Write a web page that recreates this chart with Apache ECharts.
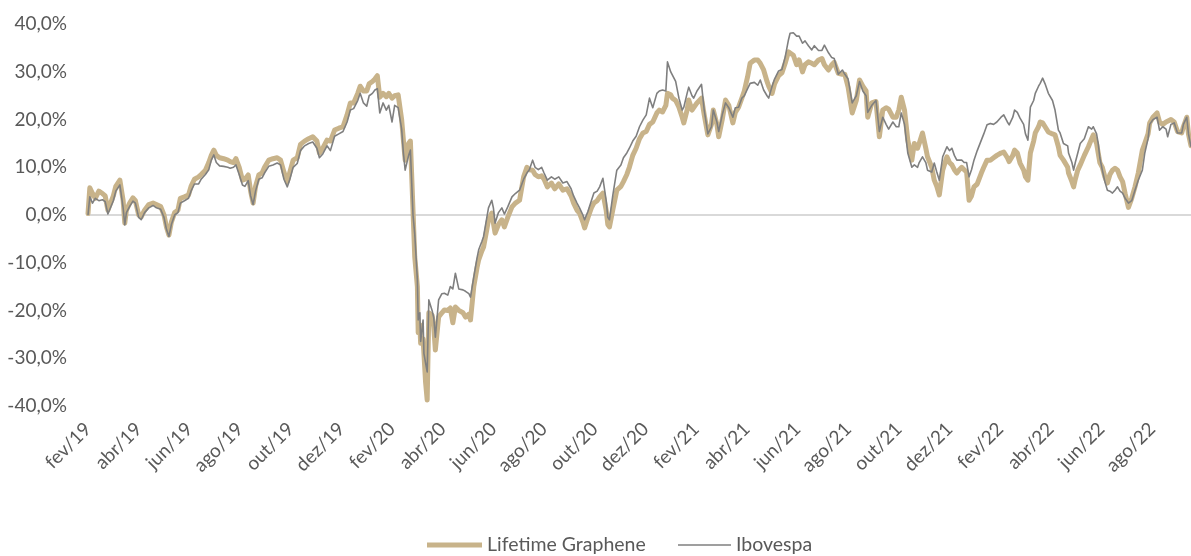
<!DOCTYPE html>
<html><head><meta charset="utf-8">
<script src="https://cdn.jsdelivr.net/npm/echarts@6/dist/echarts.min.js"></script>
<style>html,body{margin:0;padding:0;background:#fff}#c{width:1191px;height:556px}</style>
</head><body><div id="c"></div>
<script>
// Day offsets from 2019-02-01
const startYear = 2019, startMonth = 1; // fev/19 (0-based month index)
const monthNames = ['jan','fev','mar','abr','mai','jun','jul','ago','set','out','nov','dez'];
const seriesNames = ['Lifetime Graphene', 'Ibovespa'];

const days = [
0,2,5,8,12,16,19,22,24,28,
31,36,40,42,44,48,52,55,59,62,
66,71,76,80,85,89,92,95,98,102,
106,109,114,119,122,126,131,134,139,143,
146,149,152,156,161,166,169,173,176,180,
184,187,191,194,197,200,204,208,211,216,
221,226,230,234,238,241,245,250,254,259,
264,269,274,277,281,286,290,295,300,305,
310,314,318,323,326,330,334,337,341,344,
347,350,354,358,361,365,368,372,376,378,
380,384,386,389,391,394,395,397,398,401,
402,404,406,408,412,414,416,420,424,427,
431,434,437,440,444,449,452,456,458,462,
466,468,472,474,478,480,484,486,488,492,
496,499,503,508,512,517,522,526,529,533,
536,540,544,547,551,556,560,565,570,575,
580,583,587,590,594,596,600,604,607,611,
614,618,622,624,626,630,635,640,643,647,
650,654,658,662,666,670,674,678,683,686,
690,694,696,700,702,706,710,714,716,720,
722,726,728,732,737,740,744,748,750,754,
756,760,764,768,773,776,780,784,787,791,
794,799,803,806,810,814,816,820,823,828,
832,836,840,842,846,850,853,857,860,864,
868,871,876,880,883,888,892,895,900,905,
908,912,917,922,926,930,934,936,941,946,
950,954,958,961,966,970,973,976,980,984,
989,992,996,998,1002,1006,1008,1013,1016,1019,
1022,1026,1031,1034,1037,1040,1043,1046,1049,1052,
1055,1058,1061,1064,1068,1073,1076,1080,1084,1088,
1092,1097,1100,1104,1106,1110,1112,1115,1118,1122,
1124,1127,1130,1134,1136,1140,1142,1145,1148,1152,
1157,1160,1164,1166,1170,1175,1176,1180,1182,1184,
1187,1190,1195,1200,1204,1206,1210,1212,1214,1217,
1220,1223,1226,1229,1232,1235,1238,1241,1244,1248,
1252,1256,1260,1265,1268,1272,1274,1278,1283,1286,
1290,1294,1296,1300,1304,1308,1313,1315,1319,1321,
1324
];

const graphene = [
0.3,5.7,4.5,3.5,5,4.5,4,1,1,4,
6,7.3,3,-1.7,1,2.5,3.6,3,0,-0.4,
1,2.2,2.5,2.2,1.8,0,-2.5,-4.2,-1.5,0.5,
1,3.5,3.8,4.2,6,7.5,8,8.5,9.4,11,
12.5,13.6,12.5,12,11.8,11.5,11.2,11,11.8,10,
7.3,7.5,8.4,5,2.5,6,8.4,8.8,10,11.5,
11.8,12,11.5,9,7,9,11.5,12,14.8,15.5,
16,16.4,15.5,13,14,15.7,15.5,17.8,18.2,18.5,
21,23.5,23.5,25.5,27,26,26,27.5,28,28.5,
29.2,24.7,25.5,24.8,25.5,24.5,25,25.2,20,15.7,
11.5,15,15.5,1,-8.8,-15,-24.7,-23,-26.9,-26,
-29,-35,-38.8,-20.5,-21,-23.4,-28.3,-21.4,-20.5,-19.9,
-20,-19.5,-22.6,-19.3,-20,-20.5,-21.4,-20.8,-22,-15,
-11,-9.4,-7.5,-6.7,-3,-1,0.4,0,-3.8,-2,
-1,-2.5,-0.5,1.7,2.5,3.1,8,10,9.5,9.4,
8.5,8,8.2,7.5,5.9,6.7,5.5,6.5,5.2,5.5,
4,2.5,1,0.4,-1.5,-2.7,-0.5,1.5,2.5,3,
3.8,4.6,1,-2,-2.5,1,5.2,6,7,8.5,
10,12.5,14,16,17.2,17.5,19,19.5,21.4,22,
21.6,23,25.5,25.2,24.5,24,22.6,20.5,19.3,22,
24.1,22,22,23.5,24.5,21,16.8,19,22,19,
16.4,20,24.1,23,19.3,21.5,22.6,24.5,26,29,
31.8,32.5,32.5,31.8,30.4,28,27,25.5,27.5,29.2,
29.8,31.8,34.2,33.9,33.5,31.5,32.5,30,31.5,32.1,
31.8,31.5,32.5,32.8,31.5,30.4,31.5,32,29.7,29.5,
29.5,26.8,21.4,24,28.3,27,26,20.5,23.5,23.8,
16.4,22,22.5,22.2,20.5,20.5,22,24.7,22,15.7,
11.5,15,14,15,17.2,14,12.2,10,7.3,6,
4.2,9.4,12.2,11,10.5,9.5,8.8,9.5,10,9.5,
9,3.1,4,5.9,6.5,8.8,10,11.5,11.5,12,
12.5,13,13.2,12,11.2,12.5,13.6,13,10.9,9.4,
8,7.3,13,15.5,17.2,18.5,19.5,19.3,18.5,17.4,
17,16.8,14.3,12.5,11.5,10,8.8,7,5.9,7.5,
9.4,10.5,12.5,14.3,16,16.8,15,13,11,10,
8,6.7,8.5,9.4,9.8,9.4,8,7,4.5,1.6,
3.5,5.9,8.8,13.6,15,17,19.3,20.5,21.4,19.5,
19,19.5,19.5,20,19.5,17.5,17.2,18.5,20.5,17,
14.5
];

const ibovespa = [
0,3.8,2.5,3.5,3,3.2,2.8,0.2,0,3,
5,6.3,1.5,-2.1,0.5,1.8,2.9,2.5,-0.5,-1,
0.5,1.5,2,1.5,1.2,-0.5,-3,-4.5,-2,0,
0.5,2.5,3,3.5,5,6.5,6.5,7.5,8.5,9.5,
11.5,12.6,11,10.3,10.2,10,9.8,10,10.5,8.5,
6.3,6,7.2,4,2.2,5,7.5,7.8,8.8,10.2,
10.5,10.9,10.5,7.5,5.9,7.5,10,10.8,13.5,14.5,
15,15.3,14,12,12.8,14.5,13.5,16.5,17,17.5,
19.5,22,22.3,24,25.5,23.5,22.8,25,25.5,26.2,
26.5,21.4,23.5,22,23,19.5,23,22.5,18,13,
9.4,12.5,13.6,0,-4,-13.6,-22,-20.5,-26.5,-22,
-29,-31,-32.9,-17.8,-20,-21.5,-25.6,-17.8,-16.5,-16.4,
-16.8,-15,-15.5,-12.2,-15.5,-15.7,-16,-16.5,-17.2,-13,
-9,-7.3,-5.5,-4.5,-0.5,1.5,3.1,1.5,-1.7,0.5,
1.5,0.2,1.7,3.8,4.5,5.2,7.5,8.8,9.5,11.5,
10,9.5,10,8.8,7.3,8,7.5,8,6.7,7,
5.5,4,2.5,1.5,0,-1,0.8,3,4.6,5,
5.9,7.7,3,-0.5,-1,4,9.4,10.5,12,13,
14,15.5,16.5,18.5,19.9,21,24.5,22.5,25.5,26,
26.2,26,32.1,30,30.4,28,24.5,22,22.6,25.5,
26.8,25,24.5,26,27.4,22,17,18.5,22,19.5,
17.5,21,23.5,22.5,20.5,22.5,22.6,24.5,25,26.5,
27.6,27.8,27.2,28.3,26.2,25,24.5,27,28.5,30.2,
30.5,33.1,36.7,38.1,38.2,37.5,37.5,36,36.5,35.5,
34.6,35.5,34.5,34.5,35.6,34,33,32.8,29.5,30.4,
29.5,28.5,23.5,25,28,26,25,21.5,23,24,
17.5,20.5,19,18,19.5,18.5,18.5,21.4,19,13,
10,10.5,10,11,12.2,11,9.4,9,10.9,9,
7.3,12.2,14.3,13.5,14,12.5,11.5,11.5,11.5,11,
11,8,9.5,11.5,13.5,15.7,17,18.9,19.2,19,
19.5,20.5,21,19.5,18.9,20.5,22,21.5,20.3,19,
17,15.7,22.6,24,25.5,27,27.6,28.7,27.5,25.5,
24,22,17.8,17.2,15,14.5,13,11,9.4,11,
13,15,16,18.5,18,18.5,17,15,12,9.4,
7,5.2,5,4.6,5.2,5.9,5,4.6,3.5,2.5,
3,5.2,7.3,9.4,13,16,19,20,20.5,17.8,
18.5,18,16.4,19,19.3,17.2,17.2,19,20.5,17,
14.3
];

function toMonthIndex(d) {
  const dt = new Date(Date.UTC(startYear, startMonth, 1) + d * 86400000);
  const y = dt.getUTCFullYear(), m = dt.getUTCMonth(), day = dt.getUTCDate();
  const dim = new Date(Date.UTC(y, m + 1, 0)).getUTCDate();
  return (y - startYear) * 12 + (m - startMonth) + (day - 1) / dim;
}
const xs = days.map(toMonthIndex);
const gData = xs.map((x, i) => [x, graphene[i]]);
const iData = xs.map((x, i) => [x, ibovespa[i]]);
const xMax = xs[xs.length - 1];

const FONT = 'Lato';
const TXT = '#595959';
const TAN = '#C8B38A';
const GREY = '#7F7F7F';

const chart = echarts.init(document.getElementById('c'), null, {renderer: 'canvas'});
chart.setOption({
  animation: false,
  backgroundColor: '#ffffff',
  grid: {left: 88, right: 0, top: 24.2, bottom: 150.2, containLabel: false},
  legend: [
    {data: [seriesNames[0]], left: 427, top: 535, padding: 0, icon: 'rect', itemWidth: 55, itemHeight: 5,
     textStyle: {fontFamily: FONT, fontSize: 19.5, color: TXT}},
    {data: [seriesNames[1]], left: 678, top: 535, padding: 0, icon: 'rect', itemWidth: 53, itemHeight: 1.5,
     textStyle: {fontFamily: FONT, fontSize: 19.5, color: TXT}}
  ],
  xAxis: {
    type: 'value', min: 0, max: xMax, interval: 2,
    axisLine: {show: false}, axisTick: {show: false}, splitLine: {show: false},
    axisLabel: {
      rotate: 45, margin: 20, fontFamily: FONT, fontSize: 19, color: TXT,
      showMaxLabel: false, showMinLabel: true,
      formatter: v => (Number.isInteger(v) && v % 2 === 0)
        ? monthNames[(v + startMonth) % 12] + '/' + String(19 + Math.floor((v + startMonth) / 12))
        : ''
    }
  },
  yAxis: {
    type: 'value', min: -40, max: 40, interval: 10,
    axisLine: {show: false}, axisTick: {show: false}, splitLine: {show: false},
    axisLabel: {
      margin: 21, fontFamily: FONT, fontSize: 19, color: TXT,
      formatter: v => v.toFixed(1).replace('.', ',') + '%'
    }
  },
  series: [
    {
      name: seriesNames[0], type: 'line', data: gData, symbol: 'none', showSymbol: false,
      lineStyle: {width: 5, color: TAN, join: 'round', cap: 'round'}, itemStyle: {color: TAN},
      emphasis: {disabled: true},
      markLine: {
        silent: true, symbol: 'none', z: 1, animation: false, label: {show: false},
        lineStyle: {color: '#D9D9D9', width: 2, type: 'solid'},
        data: [{yAxis: 0}]
      }
    },
    {
      name: seriesNames[1], type: 'line', data: iData, symbol: 'none', showSymbol: false,
      lineStyle: {width: 1.6, color: GREY, join: 'round'}, itemStyle: {color: GREY},
      emphasis: {disabled: true}
    }
  ]
});
</script>
</body></html>
